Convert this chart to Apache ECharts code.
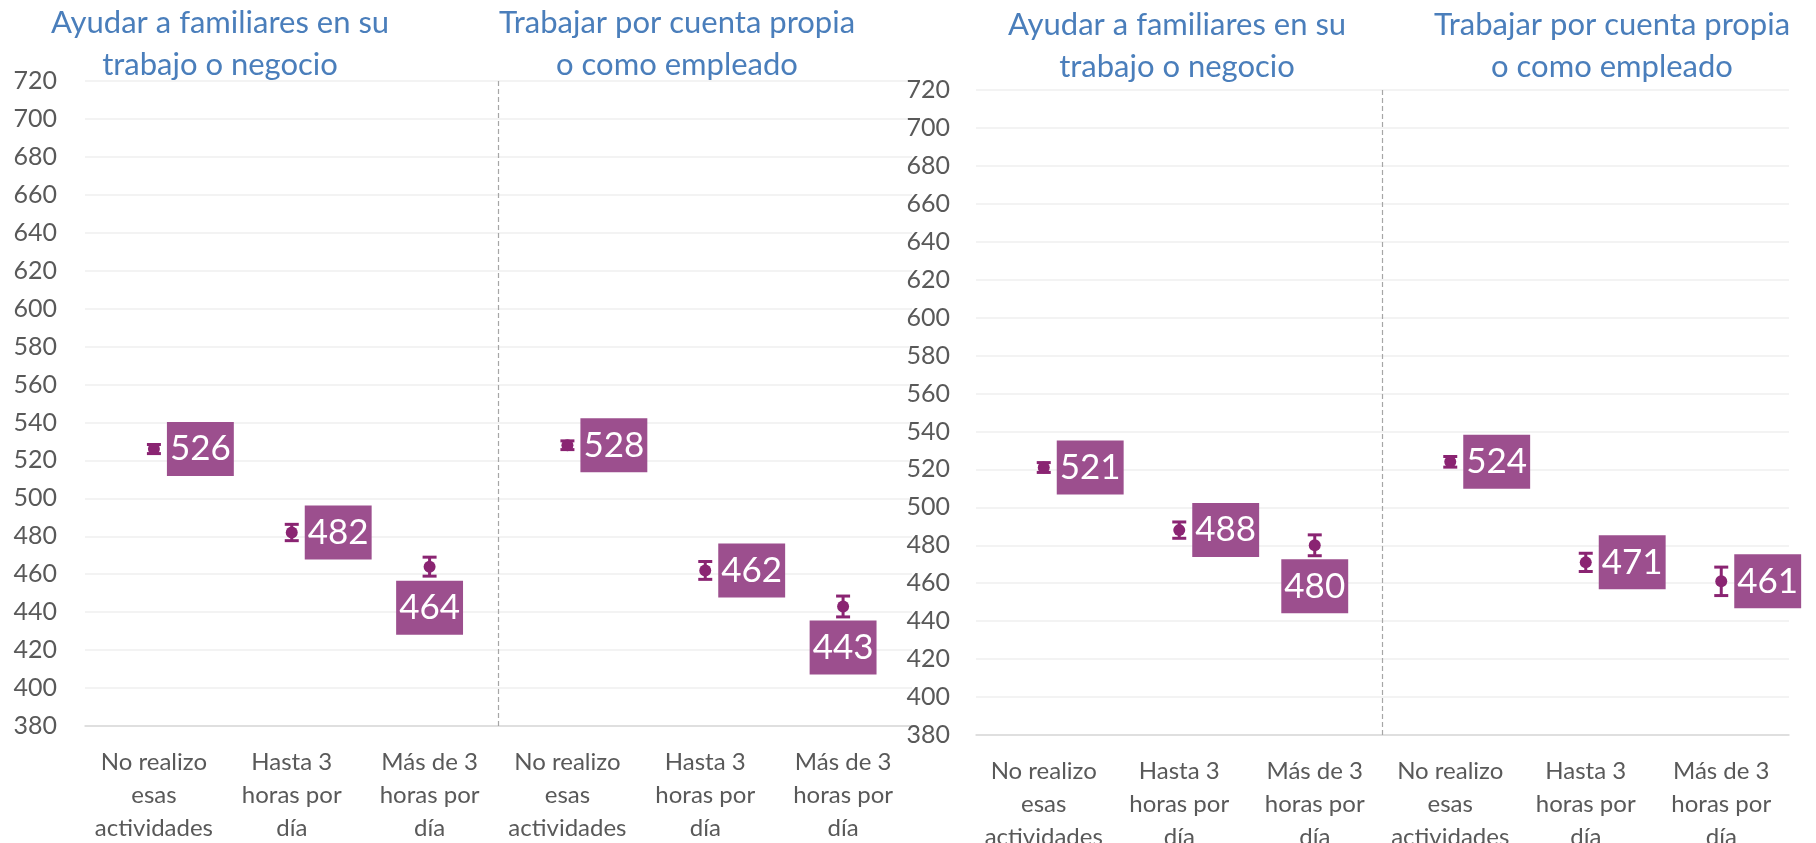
<!DOCTYPE html>
<html>
<head>
<meta charset="utf-8">
<script src="https://cdn.jsdelivr.net/npm/echarts@6/dist/echarts.min.js"></script>
<style>
  html, body { margin: 0; padding: 0; background: #fff; }
  #chart { width: 1816px; height: 843px; }
</style>
</head>
<body>
<div id="chart"></div>
<script>
// 数据
const categories = [
  'No realizo\nesas\nactividades', 'Hasta 3\nhoras por\ndía', 'Más de 3\nhoras por\ndía',
  'No realizo\nesas\nactividades', 'Hasta 3\nhoras por\ndía', 'Más de 3\nhoras por\ndía'
];
const panelTitles = ['Ayudar a familiares en su\ntrabajo o negocio', 'Trabajar por cuenta propia\no como empleado'];
const leftScores = [526, 482, 464, 528, 462, 443];
const leftErr = [2.4, 4.3, 5.0, 2.3, 4.7, 5.5];
const rightScores = [521, 488, 480, 524, 471, 461];
const rightErr = [2.6, 4.3, 5.5, 2.8, 4.8, 7.5];
const yMin = 380, yMax = 720, yStep = 20;

const FONT = 'Lato';
const purple = '#8a2472';
const boxColor = '#9c4f8e';
const gray = '#595959';

let chart = echarts.init(document.getElementById('chart'));

// 误差线
function renderErrorBar(params, api) {
  const x = api.value(0);
  const low = api.coord([x, api.value(1)]);
  const high = api.coord([x, api.value(2)]);
  const cap = 7;
  const style = { stroke: purple, lineWidth: 3 };
  return {
    type: 'group',
    children: [
      { type: 'line', shape: { x1: low[0], y1: low[1], x2: high[0], y2: high[1] }, style: style },
      { type: 'line', shape: { x1: low[0] - cap, y1: low[1], x2: low[0] + cap, y2: low[1] }, style: style },
      { type: 'line', shape: { x1: high[0] - cap, y1: high[1], x2: high[0] + cap, y2: high[1] }, style: style }
    ]
  };
}

function xAxisOf(gridIndex) {
  return {
    type: 'category',
    gridIndex: gridIndex,
    data: categories,
    axisLine: { lineStyle: { color: '#d9d9d9', width: 1.5 } },
    axisTick: { length: 8, lineStyle: { color: '#d9d9d9', width: 1.5 } },
    axisLabel: { color: gray, fontFamily: FONT, fontSize: 24, lineHeight: 33, margin: 20, interval: 0 },
    splitLine: { show: false }
  };
}

// 隐藏的数值轴，只用来放中间的虚线
function helperAxisOf(gridIndex) {
  return {
    type: 'value',
    gridIndex: gridIndex,
    min: 0,
    max: 6,
    show: false
  };
}

function yAxisOf(gridIndex, margin) {
  return {
    type: 'value',
    gridIndex: gridIndex,
    min: yMin,
    max: yMax,
    interval: yStep,
    axisLine: { show: false },
    axisTick: { show: false },
    axisLabel: { color: gray, fontFamily: FONT, fontSize: 25, margin: margin },
    splitLine: { lineStyle: { color: '#efefef', width: 1.5 } }
  };
}

function seriesOf(gridIndex, scores, errs, below) {
  return [
    {
      type: 'custom',
      xAxisIndex: gridIndex,
      yAxisIndex: gridIndex,
      renderItem: renderErrorBar,
      encode: { x: 0, y: [1, 2] },
      data: scores.map((v, i) => [i, v - errs[i], v + errs[i]]),
      z: 3
    },
    {
      type: 'scatter',
      xAxisIndex: gridIndex,
      yAxisIndex: gridIndex,
      symbol: 'circle',
      symbolSize: 12,
      itemStyle: { color: purple, opacity: 1 },
      z: 4,
      label: {
        show: true,
        color: '#fff',
        fontFamily: FONT,
        fontSize: 35,
        backgroundColor: boxColor,
        padding: [0, 3],
        lineHeight: 54
      },
      data: scores.map((v, i) => ({
        value: v,
        label: below.indexOf(i) >= 0
          ? { position: 'bottom', distance: 8 }
          : { position: 'right', distance: 7 }
      }))
    },
    {
      // 分隔线
      type: 'line',
      xAxisIndex: gridIndex + 2,
      yAxisIndex: gridIndex,
      data: [],
      silent: true,
      markLine: {
        symbol: 'none',
        label: { show: false },
        lineStyle: { color: '#a6a6a6', type: [5, 3], width: 1.2 },
        data: [{ xAxis: 3 }]
      }
    }
  ];
}

function titleText(x, y, text) {
  return {
    type: 'text',
    x: x,
    y: y,
    style: {
      text: text,
      fill: '#4a7ebb',
      font: '31px ' + FONT,
      lineHeight: 42,
      textAlign: 'center',
      textVerticalAlign: 'top'
    }
  };
}

let option = {
  animation: false,
  grid: [
    { left: 85, top: 81, width: 827, height: 645, outerBoundsMode: 'none', containLabel: false },
    { left: 976, top: 90, width: 813, height: 645, outerBoundsMode: 'none', containLabel: false }
  ],
  xAxis: [xAxisOf(0), xAxisOf(1), helperAxisOf(0), helperAxisOf(1)],
  yAxis: [yAxisOf(0, 28), yAxisOf(1, 26)],
  graphic: [
    titleText(220, 2, panelTitles[0]),
    titleText(677, 2, panelTitles[1]),
    titleText(1177, 4, panelTitles[0]),
    titleText(1612, 4, panelTitles[1])
  ],
  series: [].concat(
    seriesOf(0, leftScores, leftErr, [2, 5]),
    seriesOf(1, rightScores, rightErr, [2])
  )
};
chart.setOption(option);
</script>
</body>
</html>
